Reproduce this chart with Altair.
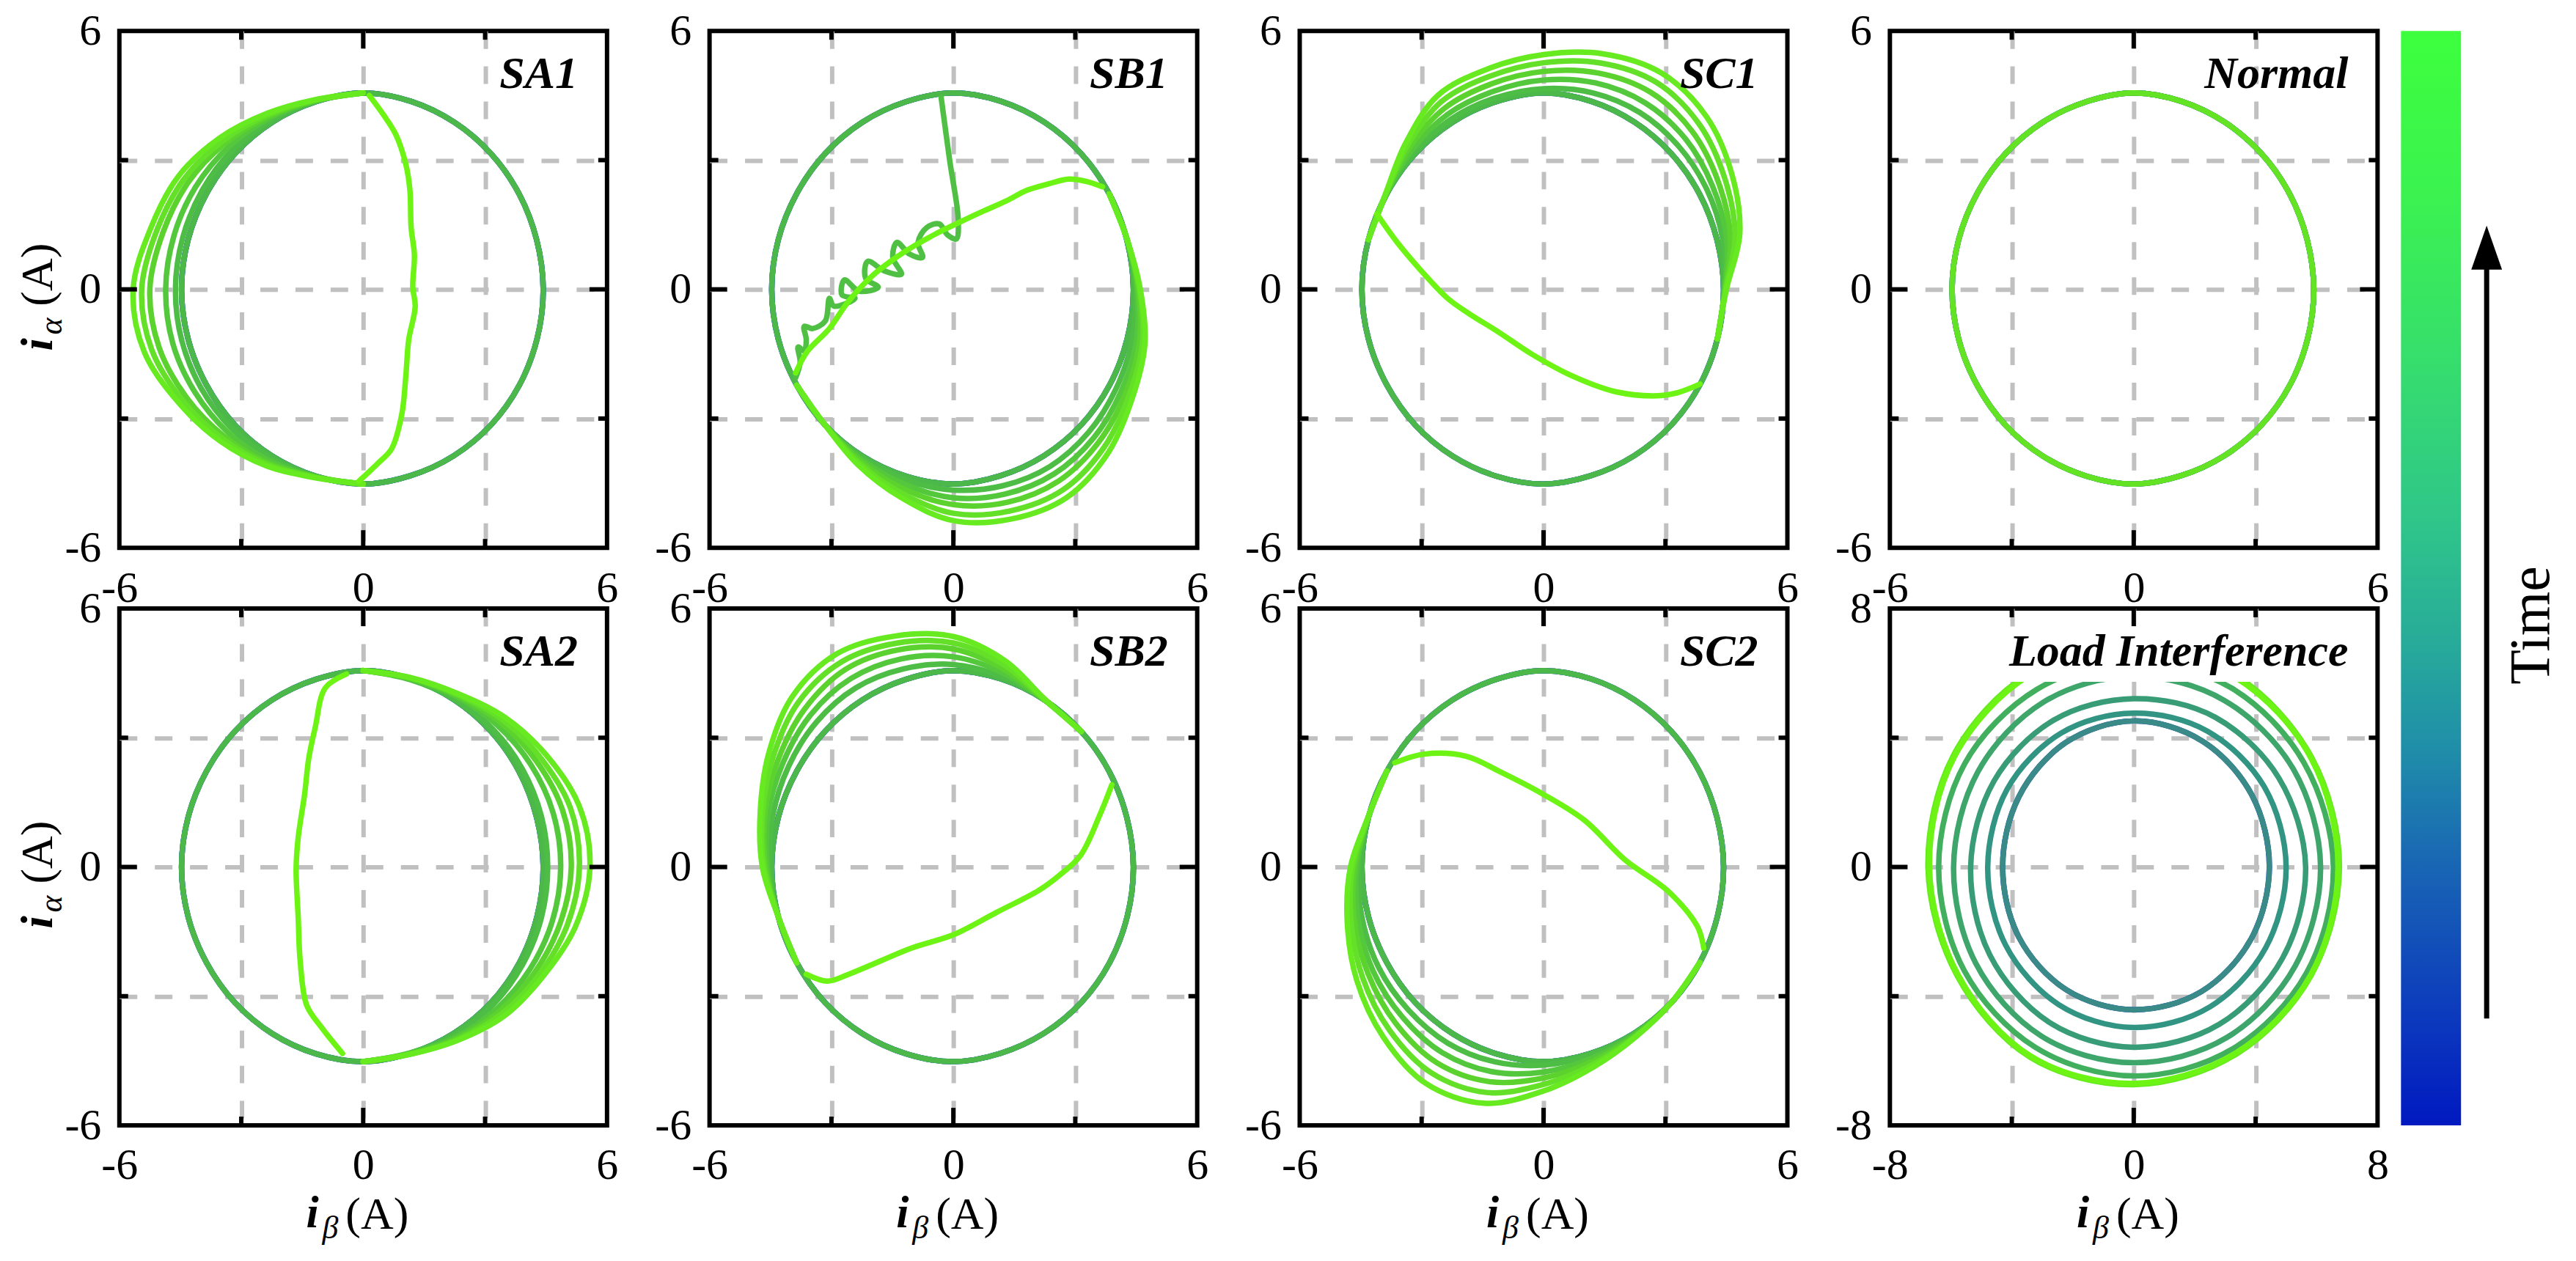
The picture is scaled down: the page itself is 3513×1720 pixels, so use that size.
import math
import altair as alt
import pandas as pd

FONT = "Liberation Serif"
W, H = 666, 706
ROW_GAP, COL_GAP = 83, 140
LW = 7.5

# ---------------- data ----------------
ANG = list(range(0, 360, 15))          # polar sampling angles (deg) of the loops
BASE_R = [4.43, 4.42, 4.43, 4.45, 4.48, 4.52, 4.56, 4.51, 4.48, 4.46, 4.45, 4.46,
          4.47, 4.46, 4.45, 4.46, 4.47, 4.49, 4.52, 4.48, 4.46, 4.45, 4.44, 4.43]

PANEL_NAMES = ["SA1", "SB1", "SC1", "Normal", "SA2", "SB2", "SC2", "Load Interference"]

SA1_START = 105
SA1_LOOPS = [
    [4.53, 4.54, 4.56, 4.58, 4.60, 4.62, 4.62, 4.60, 4.57, 4.53, 4.50],
    [4.53, 4.60, 4.68, 4.76, 4.82, 4.86, 4.85, 4.78, 4.70, 4.60, 4.51],
    [4.54, 4.64, 4.80, 4.97, 5.10, 5.25, 5.20, 5.02, 4.83, 4.66, 4.51],
    [4.55, 4.68, 4.88, 5.10, 5.26, 5.45, 5.39, 5.14, 4.90, 4.70, 4.52],
    [4.56, 4.72, 4.98, 5.25, 5.42, 5.66, 5.58, 5.25, 4.98, 4.74, 4.53],
]
SA1_CHORD_X = [-0.10, 0.35, 0.70, 0.95, 1.05, 1.12, 1.28, 1.22, 1.26, 1.18, 1.15, 1.05, 0.80, 0.50, 0.15]
SA1_CHORD_Y = [-4.45, -4.05, -3.70, -2.90, -2.00, -1.17, -0.40, 0.05, 0.80, 1.43, 2.30, 2.90, 3.60, 4.05, 4.50]

SA2_START = 285
SA2_LOOPS = [
    [4.47, 4.50, 4.52, 4.53, 4.54, 4.54, 4.54, 4.53, 4.52, 4.50, 4.50],
    [4.48, 4.56, 4.65, 4.74, 4.82, 4.86, 4.84, 4.76, 4.66, 4.57, 4.52],
    [4.49, 4.60, 4.74, 4.88, 5.02, 5.12, 5.08, 4.92, 4.76, 4.60, 4.53],
    [4.50, 4.63, 4.82, 5.00, 5.20, 5.32, 5.28, 5.05, 4.84, 4.63, 4.54],
    [4.50, 4.65, 4.90, 5.10, 5.40, 5.58, 5.50, 5.20, 4.92, 4.65, 4.55],
]
SA2_CHORD_X = [-0.41, -0.93, -1.18, -1.34, -1.44, -1.60, -1.65, -1.60, -1.55, -1.39, -1.03, -0.51]
SA2_CHORD_Y = [4.48, 4.16, 3.24, 2.52, 1.70, 0.68, -0.04, -1.16, -2.19, -3.21, -3.72, -4.33]

SB1_START = 225
SB1_LOOPS = [
    [4.46, 4.50, 4.58, 4.66, 4.72, 4.75, 4.70, 4.62, 4.55, 4.48, 4.43],
    [4.46, 4.55, 4.68, 4.84, 4.92, 4.95, 4.88, 4.76, 4.66, 4.52, 4.43],
    [4.46, 4.60, 4.79, 5.00, 5.12, 5.15, 5.04, 4.88, 4.74, 4.55, 4.43],
    [4.46, 4.65, 4.90, 5.20, 5.33, 5.38, 5.22, 4.98, 4.82, 4.58, 4.43],
    [4.46, 4.70, 5.00, 5.37, 5.52, 5.58, 5.38, 5.08, 4.88, 4.60, 4.43],
]
SB1_ZIG_X = [-0.30, -0.09, 0.12, 0.07, -0.14, -0.35, -0.66, -0.87, -0.76, -1.08, -1.39, -1.49, -1.28,
             -1.70, -2.11, -2.16, -1.85, -2.32, -2.68, -2.74, -2.42, -2.94, -3.05, -3.15, -3.46, -3.67,
             -3.62, -3.67, -3.82, -3.77, -3.88]
SB1_ZIG_Y = [4.45, 2.99, 1.61, 1.17, 1.26, 1.52, 1.43, 1.09, 0.74, 0.82, 1.09, 0.74, 0.35,
             0.43, 0.65, 0.26, 0.05, -0.04, 0.22, -0.13, -0.21, -0.39, -0.21, -0.73, -0.91, -0.86,
             -1.17, -1.43, -1.34, -1.69, -2.05]
SB1_CHORD_X = [-3.88, -3.60, -3.05, -2.60, -2.00, -1.50, -0.98, -0.45, 0.07, 0.70, 1.30, 1.81, 2.35, 2.84, 3.30, 3.67]
SB1_CHORD_Y = [-1.94, -1.45, -0.91, -0.30, 0.31, 0.68, 1.00, 1.28, 1.52, 1.80, 2.05, 2.30, 2.45, 2.56, 2.50, 2.38]

SC1_START = 0
SC1_LOOPS = [
    [4.45, 4.56, 4.64, 4.70, 4.74, 4.72, 4.66, 4.60, 4.56, 4.50, 4.45],
    [4.46, 4.66, 4.80, 4.94, 5.00, 4.96, 4.86, 4.76, 4.70, 4.58, 4.46],
    [4.47, 4.76, 4.97, 5.18, 5.28, 5.20, 5.06, 4.94, 4.86, 4.66, 4.47],
    [4.48, 4.88, 5.15, 5.42, 5.55, 5.44, 5.26, 5.12, 5.03, 4.73, 4.47],
    [4.50, 5.00, 5.35, 5.67, 5.80, 5.66, 5.45, 5.30, 5.20, 4.80, 4.48],
]
SC1_CHORD_X = [-4.10, -3.60, -2.98, -2.36, -1.84, -1.11, -0.28, 0.75, 1.79, 2.83, 3.30, 3.85]
SC1_CHORD_Y = [1.75, 1.09, 0.40, -0.21, -0.56, -0.99, -1.51, -2.03, -2.38, -2.47, -2.40, -2.20]

SB2_START = 60
SB2_LOOPS = [
    [4.48, 4.58, 4.70, 4.76, 4.80, 4.76, 4.68, 4.60, 4.52, 4.46],
    [4.48, 4.67, 4.88, 5.00, 5.05, 4.98, 4.84, 4.72, 4.58, 4.46],
    [4.48, 4.76, 5.06, 5.22, 5.30, 5.18, 4.98, 4.80, 4.62, 4.46],
    [4.49, 4.85, 5.20, 5.38, 5.50, 5.40, 5.12, 4.86, 4.66, 4.46],
    [4.50, 4.95, 5.35, 5.55, 5.72, 5.60, 5.25, 4.92, 4.70, 4.46],
]
SB2_CHORD_X = [3.90, 3.60, 3.13, 2.60, 2.09, 1.05, 0.01, -1.02, -2.06, -2.60, -3.10, -3.62]
SB2_CHORD_Y = [1.91, 1.20, 0.27, -0.20, -0.55, -1.06, -1.57, -1.88, -2.29, -2.50, -2.65, -2.49]

SC2_START = 165
SC2_LOOPS = [
    [4.46, 4.55, 4.62, 4.68, 4.70, 4.72, 4.68, 4.60, 4.52, 4.47, 4.45],
    [4.46, 4.60, 4.72, 4.84, 4.92, 4.98, 4.92, 4.76, 4.60, 4.50, 4.45],
    [4.46, 4.65, 4.82, 4.98, 5.14, 5.25, 5.16, 4.90, 4.67, 4.52, 4.45],
    [4.47, 4.70, 4.90, 5.14, 5.36, 5.52, 5.42, 5.05, 4.74, 4.54, 4.45],
    [4.47, 4.75, 5.00, 5.30, 5.58, 5.80, 5.68, 5.20, 4.80, 4.55, 4.45],
]
SC2_CHORD_X = [-3.66, -2.94, -1.90, -1.07, -0.03, 1.00, 2.00, 3.05, 3.78, 3.94]
SC2_CHORD_Y = [2.42, 2.62, 2.57, 2.21, 1.70, 1.09, 0.17, -0.55, -1.37, -1.88]

LI_ANG = list(range(0, 360, 30))
LI_RINGS = [
    [4.45, 4.47, 4.50, 4.52, 4.45, 4.35, 4.30, 4.35, 4.40, 4.42, 4.45, 4.45],
    [4.45, 4.47, 4.50, 4.52, 4.45, 4.35, 4.30, 4.35, 4.40, 4.42, 4.45, 4.45],
    [5.00, 4.95, 4.85, 4.76, 4.78, 4.80, 4.79, 4.85, 4.92, 4.97, 5.00, 5.00],
    [5.64, 5.50, 5.35, 5.21, 5.25, 5.30, 5.35, 5.45, 5.55, 5.58, 5.62, 5.64],
    [6.13, 6.05, 5.95, 5.90, 5.90, 5.90, 5.91, 5.98, 6.05, 6.06, 6.10, 6.12],
    [6.55, 6.45, 6.40, 6.35, 6.35, 6.40, 6.40, 6.42, 6.45, 6.47, 6.50, 6.55],
    [6.75, 6.75, 6.80, 6.80, 6.90, 6.85, 6.75, 6.70, 6.80, 6.74, 6.70, 6.72],
    [6.70, 6.72, 6.75, 6.78, 6.85, 6.80, 6.70, 6.66, 6.76, 6.70, 6.66, 6.70],
]
LI_T = [0.0, 0.6, 0.64, 0.68, 0.72, 0.76, 0.97, 1.0]

BASE_T = [0.0, 0.5, 0.8]
FAULT_T = [0.82, 0.86, 0.9, 0.94, 0.97]
NORMAL_T = [0.0, 0.5, 0.8, 0.95]

LINE_STOPS = [0.0, 0.5, 0.6, 0.7, 0.8, 0.9, 1.0]
LINE_COLORS = ["#0a2ac8", "#2c74a8", "#3a8a88", "#40a070", "#4cb84a", "#5cd22e", "#6ef414"]
CBAR_STOPS = [0.0, 0.1, 0.25, 0.35, 0.45, 0.55, 0.7, 0.85, 1.0]
CBAR_COLORS = ["#0019c0", "#0c3abd", "#1a6ab3", "#2090a8", "#28ad98", "#2fc58a", "#36de6c", "#3bf250", "#3dff3d"]

FAULTS = {
    "SA1": (SA1_START, SA1_LOOPS, [(SA1_CHORD_X, SA1_CHORD_Y, 1.0)]),
    "SB1": (SB1_START, SB1_LOOPS, [(SB1_ZIG_X, SB1_ZIG_Y, 0.83), (SB1_CHORD_X, SB1_CHORD_Y, 1.0)]),
    "SC1": (SC1_START, SC1_LOOPS, [(SC1_CHORD_X, SC1_CHORD_Y, 1.0)]),
    "SA2": (SA2_START, SA2_LOOPS, [(SA2_CHORD_X, SA2_CHORD_Y, 1.0)]),
    "SB2": (SB2_START, SB2_LOOPS, [(SB2_CHORD_X, SB2_CHORD_Y, 1.0)]),
    "SC2": (SC2_START, SC2_LOOPS, [(SC2_CHORD_X, SC2_CHORD_Y, 1.0)]),
}

line_scale = alt.Scale(domain=LINE_STOPS, range=LINE_COLORS)


def pol(r, a):
    return r * math.cos(math.radians(a)), r * math.sin(math.radians(a))


def loops_frame(name):
    """closed loops (normal operation / load rings)"""
    rows = []
    if name == "Load Interference":
        plan = [(radii, LI_ANG, t) for radii, t in zip(LI_RINGS, LI_T)]
    elif name == "Normal":
        plan = [(BASE_R, ANG, t) for t in NORMAL_T]
    else:
        plan = [(BASE_R, ANG, t) for t in BASE_T]
    for s, (radii, angs, t) in enumerate(plan):
        for k, (r, a) in enumerate(zip(radii, angs)):
            x, y = pol(r, a)
            rows.append({"seg": "L%02d" % s, "t": t, "k": k, "x": x, "y": y})
    return pd.DataFrame(rows)


def paths_frame(name):
    """open paths: distorted arcs of the fault loops, then the final transient paths"""
    rows = []
    if name not in FAULTS:
        return pd.DataFrame(rows)
    start, loops, chords = FAULTS[name]
    i0 = start // 15
    s = 0
    for vals, t in zip(loops, FAULT_T):
        idxs = [(i0 - 1) % 24] + [(i0 + j) % 24 for j in range(len(vals))] + [(i0 + len(vals)) % 24]
        rads = [BASE_R[idxs[0]]] + list(vals) + [BASE_R[idxs[-1]]]
        for k, (ii, r) in enumerate(zip(idxs, rads)):
            x, y = pol(r, ANG[ii])
            rows.append({"seg": "P%02d" % s, "t": t, "k": k, "x": x, "y": y})
        s += 1
    for xs, ys, t in chords:
        for k, (x, y) in enumerate(zip(xs, ys)):
            rows.append({"seg": "P%02d" % s, "t": t, "k": k, "x": x, "y": y})
        s += 1
    return pd.DataFrame(rows)


ONE = pd.DataFrame({"a": [0]})


def txt(s, x, y, size, style="normal", weight="normal", angle=0, align="left", baseline="alphabetic"):
    return alt.Chart(ONE).mark_text(
        text=s, font=FONT, fontSize=size, fontStyle=style, fontWeight=weight, angle=angle,
        align=align, baseline=baseline, color="black").encode(x=alt.value(x), y=alt.value(y))


def colorbar_layers():
    x0 = W + 32
    cb_h = 2 * H + ROW_GAP
    grad = alt.LinearGradient(
        gradient="linear", x1=0, x2=0, y1=1, y2=0,
        stops=[alt.GradientStop(color=c, offset=o) for o, c in zip(CBAR_STOPS, CBAR_COLORS)])
    bar = alt.Chart(ONE).mark_rect(fill=grad, strokeWidth=0).encode(
        x=alt.value(x0), x2=alt.value(x0 + 82), y=alt.value(0), y2=alt.value(cb_h))
    arrow = alt.Chart(ONE).mark_rule(color="black", strokeWidth=7).encode(
        x=alt.value(x0 + 117), y=alt.value(1349), y2=alt.value(300))
    head = alt.Chart(ONE).mark_point(shape="M0,-1L0.7,1L-0.7,1Z", filled=True, color="black",
                                     size=3600, opacity=1, strokeWidth=0).encode(
        x=alt.value(x0 + 117), y=alt.value(296))
    time_lbl = txt("Time", x0 + 179, 812, 78, angle=270, align="center", baseline="middle")
    return [bar, arrow, head, time_lbl]


def make_panel(idx):
    name = PANEL_NAMES[idx]
    lim = 8 if name == "Load Interference" else 6
    minor = lim // 2
    sx = alt.Scale(domain=[-lim, lim], nice=False, zero=False)
    sy = alt.Scale(domain=[-lim, lim], nice=False, zero=False)
    lab = ("abs(datum.value)==%d ? '' : (datum.value < 0 ? '-' + abs(datum.value) : '' + datum.value)"
           % minor)
    gop = {"condition": {"test": "abs(datum.value)==%d" % lim, "value": 0}, "value": 1}
    common = dict(values=[-lim, -minor, 0, minor, lim], labelExpr=lab, title=None, ticks=False,
                  domain=False, grid=True, gridOpacity=gop, labelFlush=False, labelOverlap=False,
                  labelFont=FONT, labelFontSize=60, labelColor="black")
    ax = alt.Axis(labelPadding=26, **common)
    ay = alt.Axis(labelPadding=25, **common)

    layers = []
    layers.append(alt.Chart(loops_frame(name)).mark_line(
        interpolate="cardinal-closed", strokeWidth=LW, strokeCap="round", strokeJoin="round").encode(
        x=alt.X("x:Q", scale=sx, axis=ax), y=alt.Y("y:Q", scale=sy, axis=ay),
        stroke=alt.Stroke("t:Q", scale=line_scale, legend=None),
        detail="seg:N", order="k:Q"))
    pdf = paths_frame(name)
    if len(pdf):
        layers.append(alt.Chart(pdf).mark_line(
            interpolate="catmull-rom", strokeWidth=LW, strokeCap="round", strokeJoin="round").encode(
            x=alt.X("x:Q", scale=sx, axis=ax), y=alt.Y("y:Q", scale=sy, axis=ay),
            stroke=alt.Stroke("t:Q", scale=line_scale, legend=None),
            detail="seg:N", order="k:Q"))
    if name == "Load Interference":   # label box hides the ring tops
        layers.append(alt.Chart(ONE).mark_rect(color="white").encode(
            x=alt.value(W - 40 - 476), x2=alt.value(W - 30), y=alt.value(28), y2=alt.value(100)))
    layers.append(txt(name, W - 40, 78, 62, style="italic", weight="bold", align="right"))

    # inward ticks on all four sides
    major = pd.DataFrame({"v": [0]})
    minr = pd.DataFrame({"v": [-minor, minor]})
    for df, L in ((major, 24), (minr, 12)):
        base = alt.Chart(df).mark_rule(color="black", strokeWidth=6)
        layers.append(base.encode(x=alt.X("v:Q", scale=sx, axis=ax), y=alt.value(H), y2=alt.value(H - L)))
        layers.append(base.encode(x=alt.X("v:Q", scale=sx, axis=ax), y=alt.value(0), y2=alt.value(L)))
        layers.append(base.encode(y=alt.Y("v:Q", scale=sy, axis=ay), x=alt.value(0), x2=alt.value(L)))
        layers.append(base.encode(y=alt.Y("v:Q", scale=sy, axis=ay), x=alt.value(W), x2=alt.value(W - L)))

    if idx >= 4:   # x title
        layers.append(txt("i", 255, H + 139, 62, style="italic", weight="bold"))
        layers.append(txt("\u03b2", 277, H + 154, 44, style="italic"))
        layers.append(txt("(A)", 309, H + 141, 62))
    if idx in (0, 4):   # y title
        layers.append(txt("i", -92, 437, 62, style="italic", weight="bold", angle=270))
        layers.append(txt("\u03b1", -79, 415, 44, style="italic", angle=270))
        layers.append(txt("(A)", -92, 376, 62, angle=270))
    if idx == 0:   # invisible anchor fixing the outer margin
        layers.append(alt.Chart(ONE).mark_rule(strokeOpacity=0, strokeWidth=0.1).encode(
            x=alt.value(-152), x2=alt.value(-151), y=alt.value(-29), y2=alt.value(-28)))
    if idx == 3:
        layers.extend(colorbar_layers())
    return alt.layer(*layers).properties(width=W, height=H)


panels = [make_panel(i) for i in range(8)]
chart = alt.concat(*panels, columns=4, spacing={"row": ROW_GAP, "column": COL_GAP}, bounds="flush").properties(
    padding={"left": 0, "top": 0, "right": 10, "bottom": 5}, background="white"
).configure_view(stroke="black", strokeWidth=6).configure_axis(
    labelFont=FONT, labelFontSize=60, labelColor="black", gridColor="#c0c0c0",
    gridDash=[24, 24], gridWidth=6)

chart.save("out.html", embed_options={"renderer": "svg", "actions": False})
